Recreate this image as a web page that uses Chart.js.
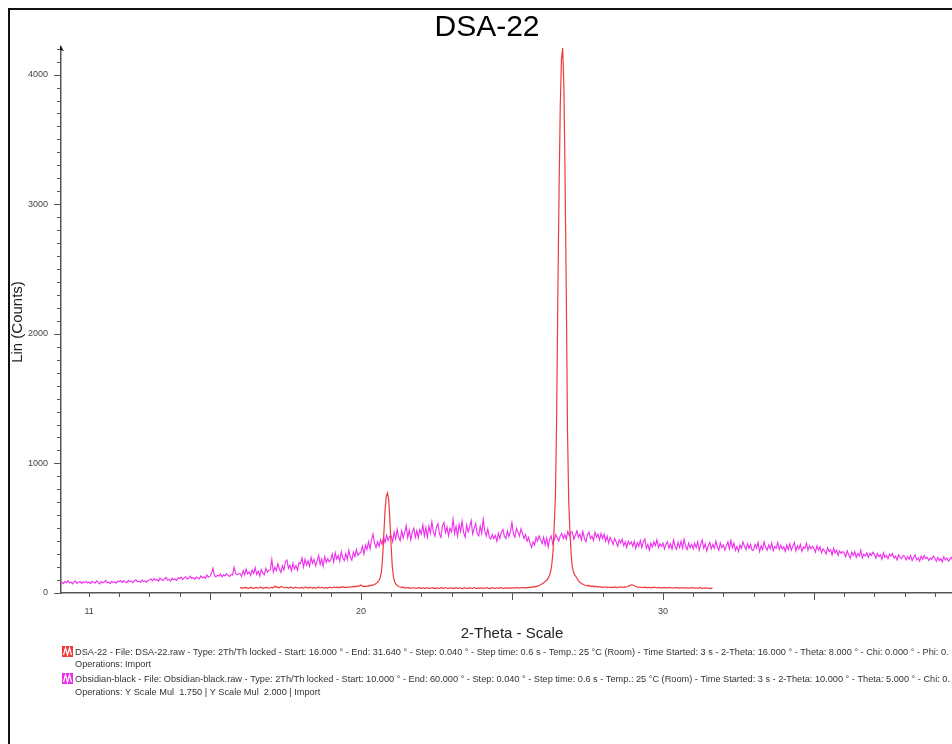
<!DOCTYPE html>
<html>
<head>
<meta charset="utf-8">
<title>DSA-22</title>
<script src="https://cdn.jsdelivr.net/npm/chart.js@4.4.1/dist/chart.umd.min.js"></script>
<style>
  html, body { margin: 0; padding: 0; background: #fff; }
  canvas { display: block; }
</style>
</head>
<body>
<canvas id="xrd" width="952" height="744"></canvas>
<script>
// DSA-22 scan: start 16.000, step 0.040 (one row per degree)
const dsaStart = 16.0;
const dsaStep = 0.04;
const dsaCounts = [
  38, 42, 35, 40, 44, 37, 41, 36, 39, 45, 40, 34, 38, 43, 41, 37, 40, 46, 39, 36, 42, 38, 44, 40, 37, // 16
  41, 45, 39, 48, 52, 44, 47, 40, 43, 50, 46, 42, 39, 44, 41, 38, 43, 47, 40, 36, 41, 45, 39, 42, 38, // 17
  40, 44, 37, 41, 46, 39, 42, 38, 45, 41, 37, 43, 40, 36, 42, 46, 39, 41, 44, 38, 40, 43, 37, 41, 45, // 18
  42, 39, 44, 47, 41, 45, 43, 40, 46, 42, 48, 44, 45, 41, 47, 43, 48, 45, 50, 46, 52, 48, 55, 51, 58, // 19
  62, 55, 50, 53, 49, 55, 52, 58, 56, 62, 60, 66, 70, 76, 85, 98, 118, 165, 280, 460, 640, 745, 772, 720, 560, // 20
  360, 200, 120, 85, 68, 58, 52, 48, 45, 42, 46, 40, 38, 43, 39, 41, 36, 40, 37, 42, 38, 35, 39, 41, 37, // 21
  39, 36, 40, 34, 38, 41, 37, 35, 39, 42, 36, 38, 34, 40, 37, 35, 39, 41, 36, 38, 42, 37, 35, 38, 40, // 22
  36, 39, 34, 38, 41, 37, 35, 40, 36, 33, 38, 41, 37, 34, 39, 36, 40, 35, 38, 42, 37, 34, 39, 36, 38, // 23
  40, 37, 35, 39, 42, 38, 36, 34, 39, 41, 37, 35, 38, 40, 36, 39, 42, 37, 35, 38, 41, 36, 39, 37, 40, // 24
  38, 41, 37, 39, 43, 40, 38, 42, 39, 44, 41, 38, 43, 40, 45, 42, 47, 44, 49, 46, 52, 50, 56, 60, 66, // 25
  72, 78, 85, 92, 100, 115, 135, 165, 220, 320, 520, 750, 1350, 2300, 3100, 3750, 4120, 4205, 3900, 3200, 2300, 1250, 700, 480, 300, // 26
  200, 160, 140, 125, 110, 95, 85, 78, 72, 66, 62, 58, 55, 60, 52, 56, 50, 54, 48, 52, 49, 46, 50, 47, 44, // 27
  47, 43, 48, 45, 42, 46, 44, 41, 45, 43, 47, 44, 42, 46, 43, 48, 45, 44, 47, 45, 48, 50, 55, 60, 63, // 28
  62, 58, 52, 48, 45, 43, 46, 42, 44, 41, 45, 43, 40, 44, 42, 39, 43, 41, 45, 42, 40, 44, 41, 38, 42, // 29
  40, 43, 39, 42, 38, 41, 44, 40, 37, 42, 39, 43, 40, 36, 41, 38, 42, 39, 37, 41, 38, 40, 36, 39, 42, // 30
  38, 41, 37, 40, 36, 39, 42, 37, 35, 39, 36, 40, 37, 34, 38, 36, 35 // 31
];

// Obsidian-black scan, read back every 0.05 degree from 10.00
const obsStart = 10.0;
const obsStep = 0.05;
const obsCounts = [
  90, 76, 84, 72, 88, 80, 95, 78, 83, 70, 86, 92, 75, 81, 89, 74, 85, 79, 91, 77, // 10
  84, 72, 90, 80, 76, 94, 82, 71, 88, 79, 85, 97, 78, 83, 74, 90, 81, 86, 76, 92, // 11
  88, 96, 82, 94, 85, 79, 98, 87, 92, 80, 95, 102, 86, 90, 83, 99, 88, 94, 84, 97, // 12
  100, 108, 94, 112, 98, 104, 90, 115, 102, 96, 110, 120, 98, 105, 92, 114, 103, 108, 96, 118, // 13
  110, 122, 104, 118, 126, 108, 115, 130, 112, 120, 106, 124, 116, 110, 132, 118, 125, 112, 140, 122, // 14
  128, 150, 192, 135, 124, 138, 130, 146, 126, 140, 132, 150, 136, 128, 144, 138, 200, 152, 140, 148, // 15
  150, 128, 172, 140, 185, 148, 162, 135, 178, 150, 195, 142, 168, 130, 182, 155, 140, 190, 160, 175, // 16
  178, 258, 160, 200, 172, 225, 185, 160, 210, 176, 240, 255, 190, 215, 170, 230, 186, 212, 175, 235, // 17
  225, 270, 200, 262, 215, 250, 205, 275, 228, 260, 210, 248, 290, 220, 262, 205, 280, 236, 265, 240, // 18
  255, 300, 240, 310, 262, 290, 245, 320, 270, 250, 305, 258, 330, 275, 252, 315, 280, 335, 290, 305, // 19
  315, 360, 300, 370, 335, 395, 340, 410, 455, 385, 350, 395, 360, 412, 375, 430, 390, 445, 405, 440, // 20
  440, 395, 470, 418, 490, 430, 405, 480, 425, 470, 520, 428, 485, 410, 470, 500, 430, 482, 425, 490, // 21
  455, 525, 440, 505, 430, 515, 460, 550, 470, 438, 510, 535, 455, 430, 520, 545, 465, 510, 440, 500, // 22
  470, 570, 460, 515, 440, 530, 475, 555, 465, 430, 525, 470, 510, 560, 455, 500, 535, 460, 440, 515, // 23
  460, 570, 480, 440, 495, 430, 415, 450, 420, 445, 400, 460, 420, 470, 490, 440, 420, 480, 435, 475, // 24
  545, 455, 430, 500, 470, 440, 495, 460, 420, 450, 400, 430, 385, 350, 395, 370, 430, 400, 440, 410, // 25
  380, 430, 370, 425, 355, 415, 440, 380, 410, 450, 425, 400, 440, 460, 420, 450, 415, 475, 440, 470, // 26
  470, 415, 445, 480, 430, 455, 410, 475, 420, 395, 450, 470, 420, 440, 405, 470, 430, 455, 410, 460, // 27
  420, 455, 400, 440, 385, 430, 405, 375, 420, 395, 360, 410, 385, 415, 365, 395, 350, 400, 375, 395, // 28
  360, 400, 345, 390, 360, 405, 350, 395, 415, 345, 375, 330, 385, 355, 395, 365, 410, 350, 380, 360, // 29
  385, 340, 375, 395, 345, 380, 340, 410, 360, 335, 390, 350, 400, 345, 415, 360, 335, 385, 350, 375, // 30
  340, 385, 350, 395, 330, 375, 410, 345, 380, 325, 365, 390, 340, 375, 345, 400, 355, 330, 385, 350, // 31
  370, 330, 365, 395, 340, 405, 350, 385, 330, 360, 320, 370, 345, 395, 360, 335, 380, 345, 375, 330, // 32
  330, 375, 345, 390, 320, 365, 335, 395, 355, 330, 370, 340, 385, 325, 360, 345, 390, 335, 370, 340, // 33
  355, 320, 370, 335, 380, 330, 360, 390, 325, 365, 340, 375, 320, 355, 345, 385, 330, 365, 340, 360, // 34
  345, 315, 365, 330, 355, 310, 340, 325, 300, 350, 320, 335, 295, 345, 310, 330, 290, 325, 305, 320, // 35
  310, 280, 325, 295, 270, 315, 290, 320, 275, 305, 285, 330, 270, 300, 285, 310, 275, 305, 290, 315, // 36
  300, 270, 305, 280, 295, 260, 310, 275, 290, 265, 300, 285, 305, 270, 285, 255, 295, 275, 265, 290, // 37
  285, 255, 280, 260, 290, 250, 275, 295, 255, 270, 245, 285, 260, 290, 265, 275, 250, 270, 260, 285, // 38
  270, 245, 275, 250, 265, 240, 280, 255, 270, 245, 260, 275, 250, 265, 240, 270, 255, 250, 262, 268  // 39
];

const xTickLabels = [11, 20, 30];
const yTickLabels = [0, 1000, 2000, 3000, 4000];

const legendLines = [
  {icon: '#f03a3a', text: 'DSA-22 - File: DSA-22.raw - Type: 2Th/Th locked - Start: 16.000 ° - End: 31.640 ° - Step: 0.040 ° - Step time: 0.6 s - Temp.: 25 °C (Room) - Time Started: 3 s - 2-Theta: 16.000 ° - Theta: 8.000 ° - Chi: 0.000 ° - Phi: 0.'},
  {icon: null, text: 'Operations: Import'},
  {icon: '#ee2cee', text: 'Obsidian-black - File: Obsidian-black.raw - Type: 2Th/Th locked - Start: 10.000 ° - End: 60.000 ° - Step: 0.040 ° - Step time: 0.6 s - Temp.: 25 °C (Room) - Time Started: 3 s - 2-Theta: 10.000 ° - Theta: 5.000 ° - Chi: 0.'},
  {icon: null, text: 'Operations: Y Scale Mul  1.750 | Y Scale Mul  2.000 | Import'},
];

const FONT = '"Liberation Sans", Arial, Helvetica, sans-serif';
Chart.defaults.font.family = FONT;

const toPoints = (start, step, counts) =>
  counts.map((y, i) => ({x: +(start + i * step).toFixed(2), y}));

const decor = {
  id: 'decor',
  beforeDraw(chart) {
    const {ctx, width, height} = chart;
    ctx.save();
    ctx.fillStyle = '#fff';
    ctx.fillRect(0, 0, width, height);
    // page frame, its right and bottom edges are outside the picture
    ctx.strokeStyle = '#111';
    ctx.lineWidth = 2;
    ctx.beginPath();
    ctx.moveTo(9, height);
    ctx.lineTo(9, 9);
    ctx.lineTo(width, 9);
    ctx.stroke();
    ctx.restore();
  },
  afterDraw(chart) {
    const {ctx, chartArea, scales} = chart;
    const xs = scales.x;
    const ys = scales.y;
    ctx.save();
    ctx.strokeStyle = '#555';
    ctx.lineWidth = 1;

    ctx.beginPath();
    for (const t of ys.ticks) {
      if (t.value % 100 !== 0) continue;
      const y = Math.round(ys.getPixelForValue(t.value)) + 0.5;
      const len = t.value % 1000 === 0 ? 7 : 4;
      ctx.moveTo(chartArea.left - len, y);
      ctx.lineTo(chartArea.left, y);
    }
    for (const t of xs.ticks) {
      if (!Number.isInteger(t.value)) continue;
      const x = Math.round(xs.getPixelForValue(t.value)) + 0.5;
      const len = t.value % 5 === 0 ? 7 : 4;
      ctx.moveTo(x, chartArea.bottom);
      ctx.lineTo(x, chartArea.bottom + len);
    }
    ctx.stroke();

    // arrow head on top of the y axis
    ctx.fillStyle = '#111';
    ctx.beginPath();
    ctx.moveTo(chartArea.left - 1, chartArea.top - 2);
    ctx.lineTo(chartArea.left + 3, chartArea.top + 4);
    ctx.lineTo(chartArea.left - 1, chartArea.top + 3);
    ctx.closePath();
    ctx.fill();

    ctx.fillStyle = '#000';
    ctx.textAlign = 'center';
    ctx.textBaseline = 'middle';
    ctx.font = '30px ' + FONT;
    ctx.fillText('DSA-22', 487, 28);

    ctx.fillStyle = '#222';
    ctx.font = '15px ' + FONT;
    ctx.fillText('2-Theta - Scale', 512, 634);
    ctx.save();
    ctx.translate(18, 322);
    ctx.rotate(-Math.PI / 2);
    ctx.fillText('Lin (Counts)', 0, 0);
    ctx.restore();

    ctx.textAlign = 'left';
    ctx.font = '9.2px ' + FONT;
    const rows = [652, 664, 679, 692];
    legendLines.forEach((line, i) => {
      const y = rows[i];
      if (line.icon) {
        ctx.fillStyle = line.icon;
        ctx.fillRect(62, y - 6, 11, 11);
        ctx.strokeStyle = '#fff';
        ctx.lineWidth = 1.2;
        ctx.beginPath();
        ctx.moveTo(63.5, y + 3);
        ctx.lineTo(65.5, y - 4);
        ctx.lineTo(67.5, y + 3);
        ctx.lineTo(69.5, y - 4);
        ctx.lineTo(71.5, y + 3);
        ctx.stroke();
      }
      ctx.fillStyle = '#333';
      ctx.fillText(line.text, 75, y);
    });
    ctx.restore();
  },
};

new Chart(document.getElementById('xrd'), {
  type: 'line',
  data: {
    datasets: [
      {
        label: 'DSA-22',
        data: toPoints(dsaStart, dsaStep, dsaCounts),
        borderColor: '#f03a3a',
        borderWidth: 1.2,
      },
      {
        label: 'Obsidian-black',
        data: toPoints(obsStart, obsStep, obsCounts),
        borderColor: '#ee2cee',
        borderWidth: 1.1,
      },
    ],
  },
  options: {
    responsive: false,
    animation: false,
    events: [],
    layout: {padding: {top: 47, left: 0, right: 0, bottom: 0}},
    elements: {point: {radius: 0}, line: {tension: 0}},
    plugins: {legend: {display: false}, tooltip: {enabled: false}},
    scales: {
      x: {
        type: 'linear',
        min: 10.07,
        max: 39.57,
        grid: {display: false, drawTicks: false},
        border: {display: true, color: '#555', width: 1.5},
        ticks: {
          stepSize: 1,
          includeBounds: false,
          autoSkip: false,
          maxRotation: 0,
          padding: 13,
          color: '#444',
          font: {size: 9},
          callback: (v) => (xTickLabels.includes(v) ? String(v) : ''),
        },
        afterFit: (scale) => {
          scale.height = 151;
        },
      },
      y: {
        min: 0,
        max: 4213,
        grid: {display: false, drawTicks: false},
        border: {display: true, color: '#555', width: 1.5},
        ticks: {
          stepSize: 100,
          includeBounds: false,
          autoSkip: false,
          padding: 13,
          color: '#444',
          font: {size: 9},
          callback: (v) => (yTickLabels.includes(v) ? String(v) : ''),
        },
        afterFit: (scale) => {
          scale.width = 61;
        },
      },
    },
  },
  plugins: [decor],
});
</script>
</body>
</html>
